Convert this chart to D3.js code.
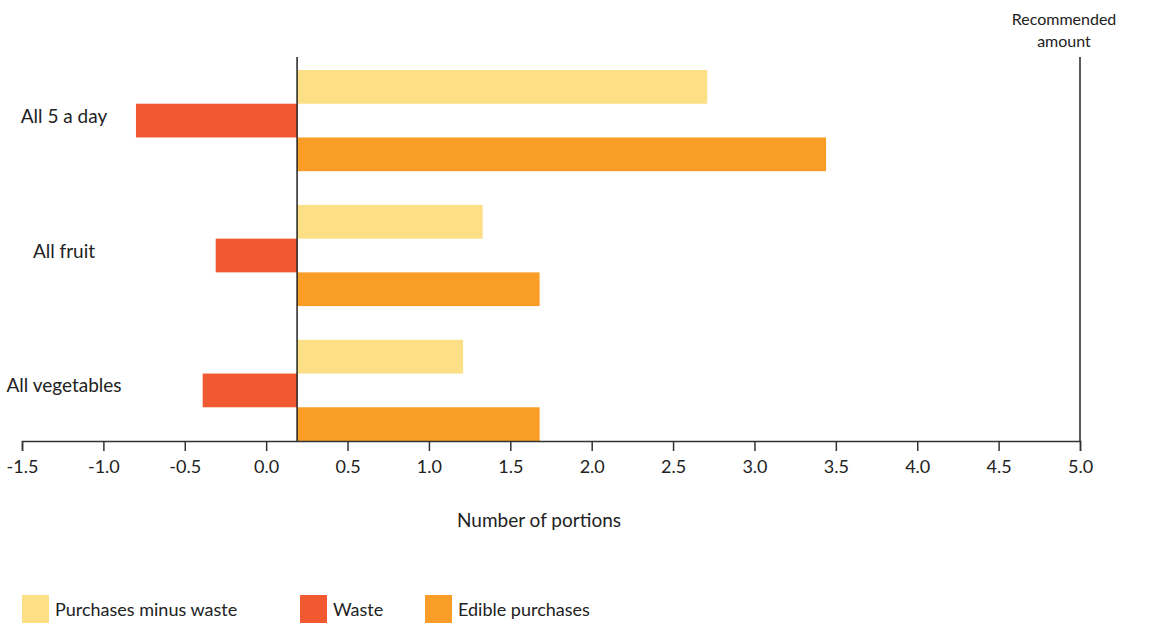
<!DOCTYPE html>
<html>
<head>
<meta charset="utf-8">
<script src="https://cdn.jsdelivr.net/npm/d3@7"></script>
<style>
  body { margin: 0; background: #fff; }
  text { font-family: Lato, "Open Sans", sans-serif; fill: #222; }
</style>
</head>
<body>
<div id="chart"></div>
<script>
// data (axis units)
const categories = ["All 5 a day", "All fruit", "All vegetables"];
const seriesNames = ["Purchases minus waste", "Waste", "Edible purchases"];
const purchasesMinusWaste = [2.71, 1.33, 1.21];
const waste = [-0.80, -0.31, -0.39];
const ediblePurchases = [3.44, 1.68, 1.68];
const baseline = 0.19;          // where the bars start (vertical line)
const recommended = 5.0;
const tickValues = [-1.5, -1.0, -0.5, 0.0, 0.5, 1.0, 1.5, 2.0, 2.5, 3.0, 3.5, 4.0, 4.5, 5.0];

const colors = ["#FDDF86", "#F15A30", "#F99D27"];
const allSeries = [purchasesMinusWaste, waste, ediblePurchases];

const width = 1149, height = 623;

const svg = d3.select("#chart")
    .append("svg")
    .attr("width", width)
    .attr("height", height);

// scales
const xScale = d3.scaleLinear().domain([-1.5, 5.0]).range([22, 1080]);
const yScale = d3.scaleBand().domain(categories).range([70, 441]).paddingInner(0.25).paddingOuter(0);
const subScale = d3.scaleBand().domain(seriesNames).range([0, yScale.bandwidth()]);

// bars
allSeries.forEach((values, s) => {
    svg.append("g")
        .selectAll("rect")
        .data(values)
        .enter()
        .append("rect")
        .attr("x", d => xScale(Math.min(d, baseline)))
        .attr("y", (d, i) => yScale(categories[i]) + subScale(seriesNames[s]))
        .attr("width", d => Math.abs(xScale(d) - xScale(baseline)))
        .attr("height", subScale.bandwidth())
        .attr("fill", colors[s]);
});

// zero line and recommended line
svg.append("line")
    .attr("x1", xScale(baseline)).attr("x2", xScale(baseline))
    .attr("y1", 57).attr("y2", 441)
    .attr("stroke", "#222").attr("stroke-width", 1.5);

svg.append("line")
    .attr("x1", xScale(recommended)).attr("x2", xScale(recommended))
    .attr("y1", 57).attr("y2", 441)
    .attr("stroke", "#222").attr("stroke-width", 1.5);

const rec = svg.append("text")
    .attr("text-anchor", "middle")
    .style("font-size", "16px");
rec.append("tspan").attr("x", xScale(recommended) - 16).attr("y", 25).text("Recommended");
rec.append("tspan").attr("x", xScale(recommended) - 16).attr("y", 47).text("amount");

// x axis
const xAxis = svg.append("g")
    .attr("transform", "translate(0,441)")
    .call(d3.axisBottom(xScale).tickValues(tickValues).tickFormat(d3.format(".1f")).tickSize(10).tickPadding(9));
xAxis.select(".domain").attr("stroke", "#333").attr("stroke-width", 1.5);
xAxis.selectAll(".tick line").attr("stroke", "#333").attr("stroke-width", 1.5);
xAxis.selectAll(".tick text")
    .style("font-size", "18px")
    .style("font-family", "Lato, sans-serif")
    .attr("fill", "#222")
    .text(d => d3.format(".1f")(d).replace("−", "-"));

svg.append("text")
    .attr("x", 539)
    .attr("y", 527)
    .attr("text-anchor", "middle")
    .style("font-size", "19px")
    .text("Number of portions");

// category labels
svg.append("g")
    .selectAll("text")
    .data(categories)
    .enter()
    .append("text")
    .attr("x", 64)
    .attr("y", d => yScale(d) + yScale.bandwidth() / 2 + 2)
    .attr("text-anchor", "middle")
    .style("font-size", "19px")
    .text(d => d);

// legend
const legendX = [22, 300, 425];
seriesNames.forEach((name, i) => {
    svg.append("rect")
        .attr("x", legendX[i]).attr("y", 595)
        .attr("width", 27).attr("height", 28)
        .attr("fill", colors[i]);
    svg.append("text")
        .attr("x", legendX[i] + 33)
        .attr("y", 616)
        .style("font-size", "18px")
        .text(name);
});
</script>
</body>
</html>
